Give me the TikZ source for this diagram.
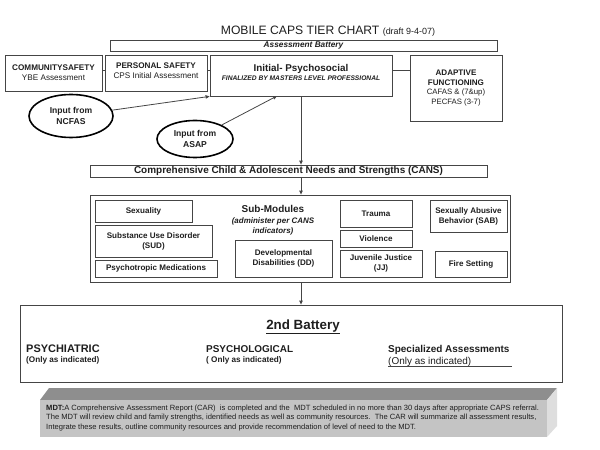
\documentclass[tikz,border=0pt]{standalone}
\usepackage{fontspec}
\setmainfont{Liberation Sans}
\usetikzlibrary{shapes.geometric,arrows.meta}
\definecolor{linegray}{HTML}{454545}
\definecolor{inkgray}{HTML}{1E1E1E}
\definecolor{topgray}{HTML}{8E8E8E}
\definecolor{frontgray}{HTML}{C4C4C4}
\definecolor{sidegray}{HTML}{DEDEDE}
\newcommand{\sz}[2]{\fontsize{#1}{#2}\selectfont}
\begin{document}
\begin{tikzpicture}[
    x=1bp,y=-1bp,
    box/.style={draw=linegray,rectangle,line width=0.8pt,inner sep=0pt,align=center,text=inkgray},
    oval/.style={draw=black,ellipse,line width=1.6pt,inner sep=0pt,align=center,text=inkgray},
    txt/.style={inner sep=0pt,align=center,text=inkgray},
    link/.style={draw=linegray,line width=0.8pt},
    arr/.style={link,-{Triangle[length=4pt,width=3.5pt]}}
]
    \useasboundingbox (0,0) rectangle (600,450);

    % Title and first battery
    \node[txt] (title) at (328,31) {\sz{12.2}{13}MOBILE CAPS TIER CHART {\sz{9}{10}(draft 9-4-07)}};
    \node[box,minimum width=387bp,minimum height=11bp,font=\sz{8.3}{9}\bfseries\itshape] (battery) at (303.5,45.5) {Assessment Battery};

    % Top row of assessments
    \coordinate (rowline) at (300,70);
    \node[box,minimum width=97bp,minimum height=36bp,font=\sz{8.2}{10}] (community) at (53.5,73) {\bfseries COMMUNITYSAFETY\\YBE Assessment};
    \node[box,minimum width=102bp,minimum height=36bp] (personal) at (156,73) {};
    \node[txt,font=\sz{8.2}{10.5}] (personaltxt) at (156,70.5) {\bfseries PERSONAL SAFETY\\CPS Initial Assessment};
    \node[box,minimum width=182bp,minimum height=41bp] (initial) at (301,75.5) {};
    \node[txt,font=\sz{6.7}{9}\bfseries\itshape] (initialtxt) at (301,72.5) {\sz{9.9}{9}\upshape Initial- Psychosocial\\FINALIZED BY MASTERS LEVEL PROFESSIONAL};
    \node[box,minimum width=92bp,minimum height=66bp,font=\sz{8.1}{9.8}] (adaptive) at (456,88) {\bfseries ADAPTIVE\\\bfseries FUNCTIONING\\\sz{7.8}{9.8}CAFAS \& (7\&up)\\\sz{7.8}{9.8}PECFAS (3-7)};
    \draw[link] (community.east |- rowline) -- (personal.west |- rowline);
    \draw[link] (personal.east |- rowline) -- (initial.west |- rowline);
    \draw[link] (initial.east |- rowline) -- (adaptive.west |- rowline);

    % Inputs
    \node[oval,minimum width=84bp,minimum height=43bp,font=\sz{8.6}{10.5}\bfseries] (ncfas) at (71,116) {Input from\\NCFAS};
    \node[oval,minimum width=76bp,minimum height=37bp,font=\sz{8.6}{10.5}\bfseries] (asap) at (195,139) {Input from\\ASAP};
    \coordinate (asapend) at (277,96);
    \draw[arr] (ncfas) -- (initial.south west);
    \draw[arr] (asap) -- (asapend);

    % CANS
    \node[box,minimum width=397bp,minimum height=12bp,font=\sz{10}{11}\bfseries] (cans) at (288.5,171) {Comprehensive Child \& Adolescent Needs and Strengths (CANS)};
    \draw[arr] (initial.south) -- (initial.south |- cans.north);

    % Sub-modules
    \node[box,minimum width=420bp,minimum height=87bp] (submodules) at (300,238.5) {};
    \draw[arr] (initial.south |- cans.south) -- (initial.south |- submodules.north);
    \node[txt,font=\sz{8}{10.5}\bfseries\itshape] (subtitle) at (273,220.5) {\sz{10}{10.5}\upshape Sub-Modules\\(administer per CANS\\indicators)};
    \begin{scope}[every node/.append style={box,font=\sz{8.1}{10}\bfseries}]
        \node[minimum width=97bp,minimum height=22bp] (sexuality) at (143.5,211) {Sexuality};
        \node[minimum width=117bp,minimum height=32bp] (sud) at (153.5,241) {Substance Use Disorder\\(SUD)};
        \node[minimum width=122bp,minimum height=17bp] (psychotropic) at (156,268.5) {Psychotropic Medications};
        \node[minimum width=97bp,minimum height=37bp] (dd) at (283.5,258.5) {Developmental\\Disabilities (DD)};
        \node[minimum width=72bp,minimum height=27bp] (trauma) at (376,213.5) {Trauma};
        \node[minimum width=72bp,minimum height=17bp] (violence) at (376,238.5) {Violence};
        \node[minimum width=82bp,minimum height=27bp] (jj) at (381,263.5) {Juvenile Justice\\(JJ)};
        \node[minimum width=77bp,minimum height=32bp] (sab) at (468.5,216) {Sexually Abusive\\Behavior (SAB)};
        \node[minimum width=72bp,minimum height=26bp] (fire) at (471,264) {Fire Setting};
    \end{scope}

    % Second battery
    \node[box,minimum width=542bp,minimum height=77bp] (second) at (291,343.5) {};
    \draw[arr] (initial.south |- submodules.south) -- (initial.south |- second.north);
    \node[txt,font=\sz{13.4}{14}\bfseries] (secondtitle) at (303,327) {\underline{2nd Battery}};
    \node[txt,anchor=west,font=\sz{11}{12}\bfseries] (psychiatric) at (26,349) {PSYCHIATRIC};
    \node[txt,anchor=west,font=\sz{8.2}{9}\bfseries] (psychiatricnote) at (26,360) {(Only as indicated)};
    \node[txt,anchor=west,font=\sz{10}{11}\bfseries] (psychological) at (206,349) {PSYCHOLOGICAL};
    \node[txt,anchor=west,font=\sz{8.2}{9}\bfseries] (psychologicalnote) at (206,360) {( Only as indicated)};
    \node[txt,anchor=west,font=\sz{10}{11}\bfseries] (specialized) at (388,350) {Specialized Assessments};
    \node[txt,anchor=west,font=\sz{10}{11}] (specializednote) at (388,361.5) {(Only as indicated)};
    \coordinate (underend) at (512,366.5);
    \draw[linegray,line width=0.6pt] (specializednote.west |- underend) -- (underend);

    % MDT note block
    \fill[topgray] (40,400) -- (547,400) -- (557,388) -- (49,388) -- cycle;
    \fill[frontgray] (40,400) rectangle (547,437);
    \fill[sidegray] (547,400) -- (557,388) -- (557,426) -- (547,437) -- cycle;
    \node[txt,anchor=north west,align=left,font=\sz{7.6}{9.2}] (mdt) at (46,405) {\textbf{MDT:}A Comprehensive Assessment Report (CAR)\ \ is completed and the\ \ MDT scheduled in no more than 30 days after appropriate CAPS referral.\\The MDT will review child and family strengths, identified needs as well as community resources.\ \ The CAR will summarize all assessment results,\\Integrate these results, outline community resources and provide recommendation of level of need to the MDT.};
\end{tikzpicture}
\end{document}
